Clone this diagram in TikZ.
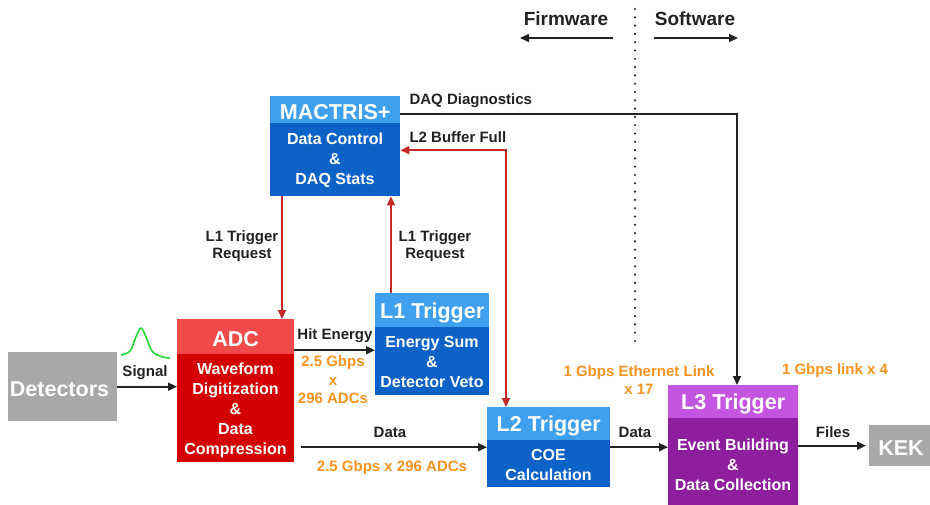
\documentclass[tikz,border=0pt]{standalone}
\usepackage{fontspec}
\setmainfont{Liberation Sans}
\usetikzlibrary{arrows.meta}
\definecolor{bhead}{HTML}{3FA0F0}
\definecolor{bbody}{HTML}{0D62C8}
\definecolor{rhead}{HTML}{F04A4A}
\definecolor{rbody}{HTML}{D40000}
\definecolor{phead}{HTML}{C455E0}
\definecolor{pbody}{HTML}{8E1E9E}
\definecolor{gbox}{HTML}{A7A8A8}
\definecolor{orng}{HTML}{F7931E}
\definecolor{redln}{HTML}{C62828}
\definecolor{blk}{HTML}{222222}
\definecolor{pulse}{HTML}{22DD33}
\tikzset{
  boxbase/.style={anchor=north west, inner sep=0pt, minimum width=#1},
  hdr/.style={font=\fontsize{21.5}{22}\selectfont\bfseries, text=white, yshift=-2.5pt},
  bodytxt/.style={font=\fontsize{16}{20}\selectfont\bfseries, text=white, align=center},
  lbl/.style={font=\fontsize{15}{17}\selectfont\bfseries, text=blk, align=center},
  olbl/.style={font=\fontsize{15}{18.5}\selectfont\bfseries, text=orng, align=center},
  arr/.style={line width=1.8pt, draw=blk, -{Triangle[length=9pt,width=8pt]}},
  rarr/.style={line width=1.8pt, draw=redln, -{Triangle[length=9pt,width=8pt]}},
  rarr2/.style={line width=1.8pt, draw=redln, {Triangle[length=9pt,width=8pt]}-{Triangle[length=9pt,width=8pt]}},
}
\begin{document}
\begin{tikzpicture}[x=1pt,y=-1pt]
\useasboundingbox (0,0) rectangle (930,504);
\clip (0,0) rectangle (930,504);
% boxes
\node[boxbase=109pt, minimum height=69pt, fill=gbox] (det) at (8,352) {};
\node[hdr] (dett) at (59.5,386.5) {Detectors};

\node[boxbase=117pt, minimum height=143pt, fill=rbody] (adc) at (177,319) {};
\node[boxbase=117pt, minimum height=35pt, fill=rhead] (adch) at (177,319) {};
\node[hdr] (adcht) at (adch.center) {ADC};
\node[bodytxt] (adcb) at (235.5,410) {Waveform\\Digitization\\\&\\Data\\Compression};

\node[boxbase=130pt, minimum height=100pt, fill=bbody] (mac) at (270,96) {};
\node[boxbase=130pt, minimum height=27pt, fill=bhead] (mach) at (270,96) {};
\node[hdr] (macht) at (mach.center) {MACTRIS+};
\node[bodytxt] (macb) at (335,160) {Data Control\\\&\\DAQ Stats};

\node[boxbase=114pt, minimum height=102pt, fill=bbody] (l1) at (375,293) {};
\node[boxbase=114pt, minimum height=34pt, fill=bhead] (l1h) at (375,293) {};
\node[hdr] (l1ht) at (l1h.center) {L1 Trigger};
\node[bodytxt] (l1b) at (432,362) {Energy Sum\\\&\\Detector Veto};

\node[boxbase=123pt, minimum height=80pt, fill=bbody] (l2) at (487,407) {};
\node[boxbase=123pt, minimum height=33pt, fill=bhead] (l2h) at (487,407) {};
\node[hdr] (l2ht) at (l2h.center) {L2 Trigger};
\node[bodytxt] (l2b) at (548.5,464.5) {COE\\Calculation};

\node[boxbase=130pt, minimum height=125pt, fill=pbody] (l3) at (668,385) {};
\node[boxbase=130pt, minimum height=33pt, fill=phead] (l3h) at (668,385) {};
\node[hdr] (l3ht) at (l3h.center) {L3 Trigger};
\node[bodytxt] (l3b) at (733,465) {Event Building\\\&\\Data Collection};

\node[boxbase=70pt, minimum height=41pt, fill=gbox] (kek) at (869,425) {};
\node[hdr] (kekt) at (901,445.5) {KEK};

% firmware / software
\coordinate (fwa) at (613,38);
\coordinate (fwb) at (520,38);
\coordinate (swa) at (654,38);
\coordinate (swb) at (738,38);
\coordinate (dota) at (635,9);
\coordinate (dotb) at (635,341);
\draw[line width=2.4pt, draw=blk, dash pattern=on 0pt off 8.3pt, line cap=round] (dota) -- (dotb);
\draw[arr, line width=1.5pt] (fwa) -- (fwb);
\draw[arr, line width=1.5pt] (swa) -- (swb);
\node[lbl, font=\fontsize{19}{20}\selectfont\bfseries] (fw) at (566,19) {Firmware};
\node[lbl, font=\fontsize{19}{20}\selectfont\bfseries] (sw) at (695,19) {Software};

% pulse
\draw[pulse, line width=1.6pt, line join=round] plot[smooth, tension=0.6] coordinates {(121,355) (130,351) (135.5,338) (141,328) (146.5,338) (152,351) (161,356.5) (170,358)};

% connectors
\draw[arr] (det.east) -- (det.east -| adc.west);
\node[lbl] (sig) at (145,373) {Signal};

\draw[arr] ([yshift=40.5pt]adc.east) -- ([yshift=40.5pt]adc.east -| l1.west);
\node[lbl] (hit) at (335,336) {Hit Energy};
\node[olbl] (hitg) at (333,380) {2.5 Gbps\\x\\296 ADCs};

\draw[arr] ([xshift=7pt]adc.east |- l2.west) -- (l2.west);
\node[lbl] (d1) at (390,432) {Data};
\node[olbl] (d1g) at (392,468) {2.5 Gbps x 296 ADCs};

\draw[arr] (l2.east) -- (l2.east -| l3.west);
\node[lbl] (d2) at (635,432) {Data};
\node[olbl] (ethg) at (639,380) {1 Gbps Ethernet Link\\x 17};

\draw[arr, shorten >=3pt] (l3.east |- kek.west) -- (kek.west);
\node[lbl] (files) at (833,432) {Files};
\node[olbl] (lnk) at (835,371) {1 Gbps link x 4};

\draw[rarr] ([xshift=12pt]mac.south west) -- ([xshift=12pt]mac.south west |- adc.north);
\node[lbl] (req1) at (242,246) {L1 Trigger\\Request};

\draw[rarr] ([xshift=16pt]l1.north west) -- ([xshift=16pt]l1.north west |- mac.south);
\node[lbl] (req2) at (435,246) {L1 Trigger\\Request};

\draw[rarr2] ([yshift=-4pt]mac.east) -| ([xshift=19pt]l2.north west);
\node[lbl, anchor=west] (buf) at (406,137) {L2 Buffer Full};

\draw[arr] ([yshift=-18pt]mac.north east) -| ([xshift=69pt]l3.north west);
\node[lbl, anchor=west] (diag) at (406,101) {DAQ Diagnostics};
\end{tikzpicture}
\end{document}
